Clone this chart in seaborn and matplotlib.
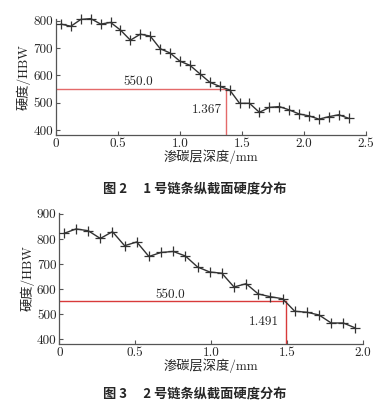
import seaborn as sns
import matplotlib.pyplot as plt
import pandas as pd

# chain 1 hardness profile
depth1 = [0.04, 0.12, 0.20, 0.28, 0.36, 0.44, 0.52, 0.60, 0.68, 0.76,
          0.84, 0.92, 1.00, 1.08, 1.16, 1.24, 1.32, 1.40, 1.48, 1.56,
          1.64, 1.72, 1.80, 1.88, 1.96, 2.04, 2.12, 2.20, 2.28, 2.36]
hard1 = [788, 780, 805, 808, 788, 794, 766, 729, 751, 744,
         698, 682, 652, 637, 606, 575, 560, 547, 498, 498,
         465, 483, 486, 474, 459, 452, 440, 449, 456, 443]
# chain 2 hardness profile
depth2 = [0.03, 0.11, 0.19, 0.27, 0.35, 0.43, 0.51, 0.59, 0.67, 0.75,
          0.83, 0.91, 0.99, 1.07, 1.15, 1.23, 1.31, 1.39, 1.47, 1.55,
          1.63, 1.71, 1.79, 1.87, 1.95]
hard2 = [822, 840, 833, 802, 829, 773, 788, 730, 746, 750,
         732, 688, 668, 663, 608, 621, 580, 569, 561, 511,
         507, 496, 464, 464, 444]

limit = 550.0
cross1 = 1.367
cross2 = 1.491

xticks1 = [0, 0.5, 1.0, 1.5, 2.0, 2.5]
xlabels1 = ['0', '0.5', '1.0', '1.5', '2.0', '2.5']
yticks1 = [400, 500, 600, 700, 800]
xticks2 = [0, 0.5, 1.0, 1.5, 2.0]
xlabels2 = ['0', '0.5', '1.0', '1.5', '2.0']
yticks2 = [400, 500, 600, 700, 800, 900]

sns.set_style('ticks')
plt.rcParams['font.family'] = ['cmr10', 'Noto Sans CJK SC']
plt.rcParams['axes.unicode_minus'] = False

cn = ['Noto Sans CJK SC']
mixed = ['cmr10', 'Noto Sans CJK SC']
gray = '#555555'

fig = plt.figure(figsize=(3.9, 4.05), dpi=100)
ax1 = fig.add_axes([0.1436, 0.6667, 0.795, 0.286])
ax2 = fig.add_axes([0.152, 0.1506, 0.779, 0.323])


def draw(ax, depth, hard, cross, xticks, xlabels, yticks, ylim, xmax, red,
         txt_lim, txt_cross):
    df = pd.DataFrame({'depth': depth, 'hard': hard})
    ax.plot([0, cross], [limit, limit], color=red, lw=1.0, zorder=1)
    ax.plot([cross, cross], [ylim[0], limit], color=red, lw=1.0, zorder=1)
    sns.lineplot(data=df, x='depth', y='hard', ax=ax, color='#333333',
                 lw=1.0, marker='+', markersize=6.5, markeredgewidth=0.9,
                 markeredgecolor='#333333', zorder=3, clip_on=False)
    ax.set_xlim(0, xmax)
    ax.set_ylim(*ylim)
    ax.set_xticks(xticks)
    ax.set_xticklabels(xlabels)
    ax.set_yticks(yticks)
    ax.tick_params(direction='in', length=3, width=0.8, color=gray,
                   labelsize=9.5, pad=2)
    for s in ['top', 'right']:
        ax.spines[s].set_visible(False)
    for s in ['left', 'bottom']:
        ax.spines[s].set_color(gray)
        ax.spines[s].set_linewidth(0.9)
    ax.set_xlabel('渗碳层深度/mm', family=mixed, fontsize=9.5, labelpad=0)
    ax.set_ylabel('硬度/HBW', family=mixed, fontsize=9.5, labelpad=2)
    ax.text(txt_lim[0], txt_lim[1], '550.0', fontsize=9.5, ha='center',
            va='center')
    ax.text(txt_cross[0], txt_cross[1], f'{cross:.3f}', fontsize=9.5,
            ha='center', va='center')


draw(ax1, depth1, hard1, cross1, xticks1, xlabels1, yticks1, (382, 806),
     2.5, '#e46a6a', (0.66, 575), (1.22, 474))
draw(ax2, depth2, hard2, cross2, xticks2, xlabels2, yticks2, (380, 903),
     2.0, '#d83a3a', (0.73, 578), (1.35, 467))

fig.text(0.5, 1 - 188 / 405, '图 2\u2003 1 号链条纵截面硬度分布', family=cn,
         fontsize=9.5, fontweight='bold', ha='center', va='center')
fig.text(0.5, 1 - 393 / 405, '图 3\u2003 2 号链条纵截面硬度分布', family=cn,
         fontsize=9.5, fontweight='bold', ha='center', va='center')

fig.savefig('out.png', dpi=100)
